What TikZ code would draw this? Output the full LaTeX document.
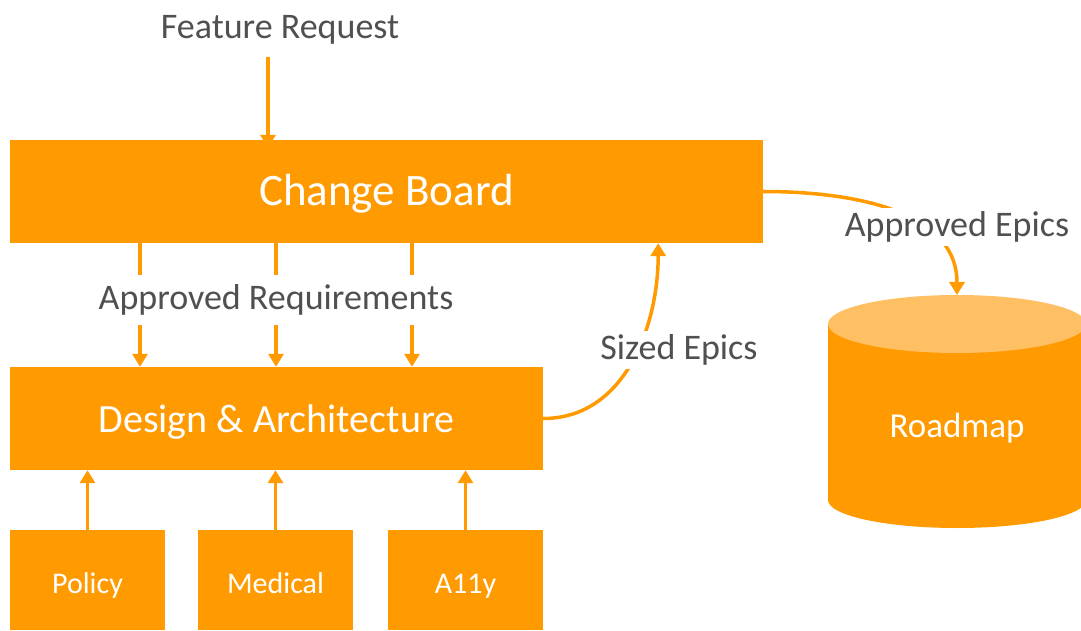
\documentclass[tikz,border=0pt]{standalone}
\usepackage{fontspec}
\setmainfont{Carlito}
\usetikzlibrary{
  arrows.meta,
  positioning,
  calc
}
\definecolor{boxOrange}{RGB}{255,154,0}
\definecolor{lidOrange}{RGB}{255,192,100}
\definecolor{textGray}{RGB}{80,80,80}
\tikzset{
  box/.style={
    rectangle,
    fill=boxOrange,
    text=white,
    inner sep=0pt
  }
}
\tikzset{
  flow/.style={
    draw=boxOrange,
    line width=3.5pt,
    -{Triangle[width=15pt 0,length=13pt 0]}
  }
}
\tikzset{
  tag/.style={
    text=textGray,
    fill=white,
    inner sep=4pt,
    font=\fontsize{36}{40}\selectfont
  }
}

\begin{document}
\begin{tikzpicture}[x=1pt, y=1pt]
    \useasboundingbox (0,0) rectangle (1081,630);

    \node[box, minimum width=753pt, minimum height=103pt, text height=36pt, text depth=8pt,
      font=\fontsize{45}{50}\selectfont] (board) at (386.5,438.5) {Change Board};
    \node[box, minimum width=533pt, minimum height=103pt, text height=36pt, text depth=8pt,
      font=\fontsize{40}{44}\selectfont] (design) at (276.5,211.5) {Design \& Architecture};

    \foreach \Name/\Label/\x in {policy/Policy/87.5, medical/Medical/275.5, a11y/A11y/465.5}{
      \node[box, minimum width=155pt, minimum height=100pt, text height=32pt, text depth=6pt,
        font=\fontsize{30}{34}\selectfont] (\Name) at (\x,50) {\Label};
      \draw[flow] (\Name.north) -- (\Name.north |- design.south);
    }

    \node[tag, fill=none] (feature) at (280,600) {Feature Request};
    \draw[flow] ([shift={(-12pt,-8pt)}]feature.south)
      -- ([shift={(-12pt,-8pt)}]feature.south |- board.north);

    \foreach \x in {140, 276, 412}{
      \draw[flow] (board.south -| \x,0) -- (design.north -| \x,0);
    }
    \node[tag, inner sep=10pt] (reqs) at (276,330) {Approved Requirements};

    % roadmap store
    \fill[boxOrange] (828,306) -- (828,130)
      arc[start angle=180, end angle=360, x radius=129, y radius=28]
      -- (1086,306) -- cycle;
    \fill[lidOrange] (957,306) ellipse[x radius=129, y radius=29];
    \coordinate (lid) at (957,335);
    \node[text=white, font=\fontsize{35}{40}\selectfont] (roadmap) at (957,202) {Roadmap};

    \draw[flow] (design.east) to[out=0, in=-90] ([xshift=-105pt]board.south east);
    \node[tag] (sized) at (679,280) {Sized Epics};

    \draw[flow] (board.east) to[out=0, in=90] (lid);
    \node[tag] (epics) at (957,403) {Approved Epics};
  \end{tikzpicture}
\end{document}
